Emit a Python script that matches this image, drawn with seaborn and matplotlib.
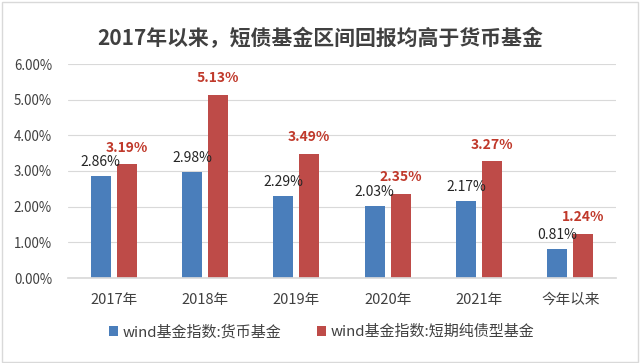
import matplotlib
matplotlib.use("Agg")
import matplotlib.pyplot as plt
import seaborn as sns
import pandas as pd
from matplotlib.patches import Rectangle

categories = ["2017年", "2018年", "2019年", "2020年", "2021年", "今年以来"]
series_names = ["wind基金指数:货币基金", "wind基金指数:短期纯债型基金"]
money_fund = [2.86, 2.98, 2.29, 2.03, 2.17, 0.81]
short_bond = [3.19, 5.13, 3.49, 2.35, 3.27, 1.24]
yticks = [0, 1, 2, 3, 4, 5, 6]

sns.set_theme(style="white")
plt.rcParams['font.family'] = ['Noto Sans CJK SC', 'DejaVu Sans']

df = pd.DataFrame({
    "cat": categories * 2,
    "series": [series_names[0]] * 6 + [series_names[1]] * 6,
    "val": money_fund + short_bond,
})

blue = "#4a7ebb"
red = "#be4b48"

fig = plt.figure(figsize=(6.4, 3.63), dpi=100)
ax = fig.add_axes([68/640, 1 - 278/363, (616-68)/640, (278-64)/363])
sns.barplot(data=df, x="cat", y="val", hue="series", order=categories,
            hue_order=series_names, palette=[blue, red], width=0.57, gap=0.23,
            saturation=1, linewidth=0, ax=ax, legend=True)

ax.set_ylim(0, 6)
ax.set_yticks(yticks)
ax.set_yticklabels([f"{v:.2f}%" for v in yticks], fontsize=9.6, color="#404040")
ax.tick_params(axis='x', labelsize=10.5, colors="#404040", length=0, pad=11)
ax.tick_params(axis='y', length=0, pad=11.5)
ax.yaxis.grid(True, color="#d9d9d9", linewidth=0.8)
ax.set_axisbelow(True)
for s in ["top", "right", "left"]:
    ax.spines[s].set_visible(False)
ax.spines["bottom"].set_color("#d9d9d9")
ax.set_xlabel("")
ax.set_ylabel("")

conts = ax.containers
ax.bar_label(conts[0], labels=[f"{v:.2f}%" for v in money_fund], padding=5,
             fontsize=10, color="#262626")
ax.bar_label(conts[1], labels=[f"{v:.2f}%" for v in short_bond], padding=7,
             fontsize=10, color="#c0392b", fontweight="semibold")

leg = ax.legend(loc="center", bbox_to_anchor=(0.4635, 1 - (332-64)/(278-64)), ncol=2,
                frameon=False, fontsize=10.8, handlelength=0.6, handleheight=0.6,
                columnspacing=2.4, handletextpad=0.3)
for t in leg.get_texts():
    t.set_color("#404040")

fig.text(0.5, 1 - 38/363, "2017年以来，短债基金区间回报均高于货币基金",
         ha="center", va="center", fontsize=15, fontweight="bold", color="#404040")

fig.patches.append(Rectangle((0.003, 0.004), 0.994, 0.99, transform=fig.transFigure,
                             fill=False, edgecolor="#d9d9d9", linewidth=1))

fig.savefig("out.png", dpi=100)
